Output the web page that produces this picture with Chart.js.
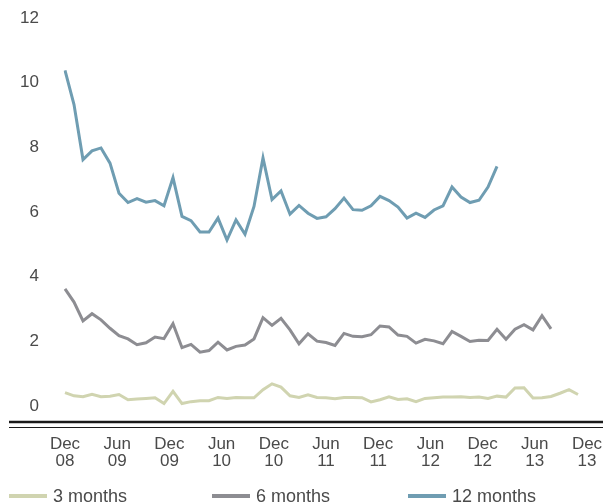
<!DOCTYPE html>
<html>
<head>
<meta charset="utf-8">
<script src="https://cdn.jsdelivr.net/npm/chart.js@4.4.1/dist/chart.umd.min.js"></script>
<style>
  body { margin: 0; background: #fff; }
  .wrap { position: relative; width: 606px; height: 504px; }
  #legend { position: absolute; left: 0; top: 486px; width: 606px; height: 20px;
    font: 18px "Liberation Sans", Arial, sans-serif; color: #4a4a4a; }
  #legend .item { position: absolute; top: 0; height: 20px; display: flex; align-items: center; white-space: nowrap; }
  #legend .item:nth-child(1) { left: 9px; }
  #legend .item:nth-child(2) { left: 212px; }
  #legend .item:nth-child(3) { left: 408px; }
  #legend .swatch { width: 38px; height: 4px; margin-right: 6px; }
</style>
</head>
<body>
<div class="wrap">
  <canvas id="myChart" width="606" height="504"></canvas>
  <div id="legend"></div>
</div>
<script>
// month categories, Dec 08 onwards
var monthNames = ["Jan", "Feb", "Mar", "Apr", "May", "Jun", "Jul", "Aug", "Sep", "Oct", "Nov", "Dec"];
var months = [];
for (var i = 0; i < 59; i++) {
  var m = (11 + i) % 12;
  var yr = 8 + Math.floor((11 + i) / 12);
  months.push(monthNames[m] + " " + (yr < 10 ? "0" + yr : "" + yr));
}

var tickLabels = [["Dec", "08"], ["Jun", "09"], ["Dec", "09"], ["Jun", "10"], ["Dec", "10"], ["Jun", "11"],
  ["Dec", "11"], ["Jun", "12"], ["Dec", "12"], ["Jun", "13"], ["Dec", "13"]];
var yTicks = [0, 2, 4, 6, 8, 10, 12];

var seriesNames = ["3 months", "6 months", "12 months"];

var threeMonth = [0.41, 0.31, 0.28, 0.36, 0.28, 0.30, 0.35, 0.19, 0.21, 0.23, 0.25, 0.07, 0.45, 0.07, 0.13, 0.16, 0.16, 0.26, 0.23, 0.26,
  0.25, 0.25, 0.50, 0.68, 0.58, 0.31, 0.26, 0.34, 0.26, 0.25, 0.22, 0.26, 0.26, 0.25, 0.12, 0.19, 0.28, 0.20, 0.22, 0.13,
  0.23, 0.25, 0.27, 0.27, 0.28, 0.26, 0.27, 0.23, 0.30, 0.27, 0.55, 0.56, 0.24, 0.25, 0.29, 0.39, 0.50, 0.35];

var sixMonth = [3.62, 3.21, 2.63, 2.85, 2.66, 2.40, 2.17, 2.07, 1.89, 1.95, 2.13, 2.08, 2.54, 1.80, 1.90, 1.66, 1.71, 1.97, 1.73, 1.84,
  1.88, 2.07, 2.73, 2.49, 2.71, 2.35, 1.92, 2.23, 2.00, 1.96, 1.87, 2.24, 2.15, 2.14, 2.20, 2.47, 2.44, 2.19, 2.15, 1.94,
  2.06, 2.01, 1.92, 2.30, 2.15, 1.99, 2.03, 2.02, 2.37, 2.06, 2.37, 2.51, 2.35, 2.79, 2.38];

var twelveMonth = [10.38, 9.32, 7.62, 7.89, 7.98, 7.51, 6.58, 6.29, 6.41, 6.30, 6.35, 6.19, 7.06, 5.86, 5.73, 5.38, 5.38, 5.81, 5.13, 5.75,
  5.31, 6.17, 7.67, 6.38, 6.65, 5.93, 6.20, 5.96, 5.80, 5.85, 6.10, 6.43, 6.07, 6.05, 6.19, 6.48, 6.35, 6.15, 5.81, 5.96,
  5.83, 6.06, 6.19, 6.77, 6.46, 6.29, 6.36, 6.77, 7.41];

var colors = ["#d0d4b0", "#8d8d92", "#6f9db2"];
var textColor = "#4a4a4a";
var font = { family: "'Liberation Sans', Arial, sans-serif", size: 17, lineHeight: 1.05 };

// double rule under the plot, runs nearly full width
var baseRule = {
  id: "baseRule",
  afterDraw: function (chart) {
    var ctx = chart.ctx;
    var y = chart.chartArea.bottom;
    ctx.save();
    ctx.strokeStyle = "#1a1a1a";
    ctx.lineWidth = 2.6;
    ctx.beginPath();
    ctx.moveTo(9, y);
    ctx.lineTo(603, y);
    ctx.stroke();
    ctx.lineWidth = 1;
    ctx.beginPath();
    ctx.moveTo(9, y + 5.5);
    ctx.lineTo(603, y + 5.5);
    ctx.stroke();
    ctx.restore();
  }
};

function makeSet(label, values, color) {
  return {
    label: label,
    data: values,
    borderColor: color,
    backgroundColor: color,
    borderWidth: 3,
    pointRadius: 0,
    tension: 0,
    fill: false
  };
}

var chart = new Chart(document.getElementById("myChart").getContext("2d"), {
  type: "line",
  data: {
    labels: months,
    datasets: [
      makeSet(seriesNames[0], threeMonth, colors[0]),
      makeSet(seriesNames[1], sixMonth, colors[1]),
      makeSet(seriesNames[2], twelveMonth, colors[2])
    ]
  },
  options: {
    responsive: false,
    animation: false,
    layout: { padding: { left: 0, right: 19, top: 18, bottom: 0 } },
    plugins: {
      legend: { display: false },
      tooltip: { enabled: false }
    },
    scales: {
      x: {
        type: "category",
        display: false,
        offset: false
      },
      xTicks: {
        type: "category",
        labels: tickLabels,
        position: "bottom",
        offset: false,
        grid: { display: false, drawTicks: false },
        border: { display: false },
        ticks: { color: textColor, font: font, padding: 13, maxRotation: 0, autoSkip: false },
        afterFit: function (scale) {
          // leave room below for the html legend
          scale.height = 82;
          scale.paddingLeft = 16;
          scale.paddingRight = 16;
        }
      },
      y: {
        min: -0.5,
        max: 12,
        afterBuildTicks: function (axis) {
          axis.ticks = yTicks.map(function (v) { return { value: v }; });
        },
        grid: { display: false, drawTicks: false },
        border: { display: false },
        ticks: { color: textColor, font: font, padding: 26 },
        afterFit: function (scale) {
          scale.width = 65;
          scale.paddingTop = 9;
          scale.paddingBottom = 9;
        }
      }
    }
  },
  plugins: [baseRule]
});

// legend as html, built from the datasets
var legendEl = document.getElementById("legend");
chart.data.datasets.forEach(function (ds) {
  var item = document.createElement("div");
  item.className = "item";
  var sw = document.createElement("span");
  sw.className = "swatch";
  sw.style.background = ds.borderColor;
  var txt = document.createElement("span");
  txt.textContent = ds.label;
  item.appendChild(sw);
  item.appendChild(txt);
  legendEl.appendChild(item);
});
</script>
</body>
</html>
